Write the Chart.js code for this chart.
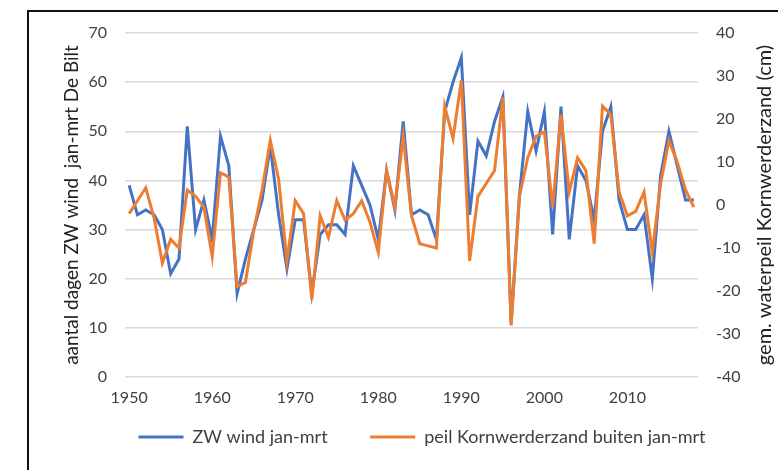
<!DOCTYPE html>
<html>
<head>
<meta charset="utf-8">
<script src="https://cdn.jsdelivr.net/npm/chart.js@4"></script>
<style>
  html, body { margin: 0; padding: 0; background: #ffffff; overflow: hidden; }
  #wrap { position: absolute; left: 0; top: 0; width: 778px; height: 470px; }
  #frame { position: absolute; left: 27px; top: 10px; width: 800px; height: 500px;
           border-left: 2px solid #111; border-top: 2px solid #111; pointer-events: none; }
</style>
</head>
<body>
<div id="wrap"><canvas id="c"></canvas></div>
<div id="frame"></div>
<script>
const years = [];
for (let y = 1950; y <= 2018; y++) years.push(y);

const zwWind = [
  39, 33, 34, 33, 30, 21, 24, 51, 30, 36,
  28, 49, 43, 17, 24, 30, 36, 47, 33, 22,
  32, 32, 17, 29, 31, 31, 29, 43, 39, 35,
  28, 42, 34, 52, 33, 34, 33, 28, 54, 60,
  65, 33, 48, 45, 52, 57, 11, 37, 54, 46,
  54, 29, 55, 28, 43, 40, 32, 50, 55, 36,
  30, 30, 33, 20, 41, 50, 43, 36, 36
];

const peilKornwerderzand = [
  -2, 1, 4, -3, -13.5, -8, -10, 3.5, 2, -0.5,
  -12, 7.5, 6.5, -19, -18, -6, 3.5, 15, 6, -13,
  1, -2, -22, -2.5, -7.5, 1, -3.5, -2, 1, -4,
  -11, 8, -0.5, 16, -2.5, -9, -9.5, -10, 23, 15.5,
  29, -13, 2, 5, 8, 25, -28, 2, 11, 16,
  17, -0.5, 21, 3, 11, 8, -9, 23, 21, 3,
  -2.5, -1.5, 3, -11, 5, 15, 10, 3.5, -0.5
];

const leftTicks = [0, 10, 20, 30, 40, 50, 60, 70];
const rightTicks = [-40, -30, -20, -10, 0, 10, 20, 30, 40];

const seriesNames = ['ZW wind jan-mrt', 'peil Kornwerderzand buiten jan-mrt'];
const leftTitle = 'aantal dagen ZW wind  jan-mrt De Bilt';
const rightTitle = 'gem. waterpeil Kornwerderzand (cm)';

const FONT = 'Lato, "Open Sans", sans-serif';

const titlePlugin = {
  id: 'axisTitles',
  afterLayout(chart) {
    // nudge the legend block to the right, as in the reference
    if (chart.legend) { chart.legend.left += 66; }
  },
  afterDraw(chart) {
    const ctx = chart.ctx;
    const area = chart.chartArea;
    const midY = (area.top + area.bottom) / 2;
    ctx.save();
    ctx.fillStyle = '#222';
    ctx.font = '19px ' + FONT;
    ctx.textAlign = 'center';
    ctx.textBaseline = 'middle';
    ctx.translate(72, midY);
    ctx.rotate(-Math.PI / 2);
    ctx.fillText(leftTitle, 0, 0);
    ctx.restore();
    ctx.save();
    ctx.fillStyle = '#222';
    ctx.font = '20px ' + FONT;
    ctx.textAlign = 'center';
    ctx.textBaseline = 'middle';
    ctx.translate(765, midY);
    ctx.rotate(-Math.PI / 2);
    ctx.fillText(rightTitle, 0, 0);
    ctx.restore();
  }
};

new Chart(document.getElementById('c'), {
  type: 'line',
  data: {
    labels: years,
    datasets: [
      {
        label: seriesNames[0],
        data: zwWind,
        yAxisID: 'y',
        borderColor: '#4472C4',
        backgroundColor: '#4472C4',
        borderWidth: 3,
        pointRadius: 0,
        tension: 0,
        order: 1
      },
      {
        label: seriesNames[1],
        data: peilKornwerderzand,
        yAxisID: 'y2',
        borderColor: '#ED7D31',
        backgroundColor: '#ED7D31',
        borderWidth: 3,
        pointRadius: 0,
        tension: 0,
        order: 0
      }
    ]
  },
  options: {
    responsive: true,
    maintainAspectRatio: false,
    animation: false,
    layout: { padding: { top: 33, left: 0, right: 0, bottom: 14 } },
    plugins: {
      tooltip: { enabled: false },
      legend: {
        position: 'bottom',
        labels: {
          usePointStyle: true,
          pointStyle: 'line',
          pointStyleWidth: 45,
          boxHeight: 18,
          color: '#404040',
          font: { family: FONT, size: 18 },
          padding: 15,
          sort: (a, b) => a.datasetIndex - b.datasetIndex,
          generateLabels(chart) {
            const items = Chart.defaults.plugins.legend.labels.generateLabels(chart);
            items.forEach(it => { if (it.datasetIndex === 0) it.text = it.text + '      '; });
            return items;
          }
        }
      }
    },
    scales: {
      x: {
        type: 'category',
        offset: true,
        grid: { display: false },
        border: { display: false },
        afterFit(scale) { scale.height = 36; },
        ticks: {
          autoSkip: false,
          maxRotation: 0,
          minRotation: 0,
          padding: 3,
          color: '#404040',
          font: { family: FONT, size: 16 },
          callback(val, idx) { return years[idx] % 10 === 0 ? String(years[idx]) : ''; }
        }
      },
      y: {
        position: 'left',
        min: leftTicks[0],
        max: leftTicks[leftTicks.length - 1],
        afterFit(scale) { scale.width = 125; },
        afterBuildTicks(scale) { scale.ticks = leftTicks.map(v => ({ value: v })); },
        grid: { color: '#d9d9d9', lineWidth: 1.5, drawTicks: false },
        border: { display: false },
        ticks: { padding: 18, color: '#404040', font: { family: FONT, size: 16 } }
      },
      y2: {
        position: 'right',
        min: rightTicks[0],
        max: rightTicks[rightTicks.length - 1],
        afterFit(scale) { scale.width = 80; },
        afterBuildTicks(scale) { scale.ticks = rightTicks.map(v => ({ value: v })); },
        grid: { drawOnChartArea: false, drawTicks: false },
        border: { display: false },
        ticks: { padding: 18, color: '#404040', font: { family: FONT, size: 16 } }
      }
    }
  },
  plugins: [titlePlugin]
});
</script>
</body>
</html>
